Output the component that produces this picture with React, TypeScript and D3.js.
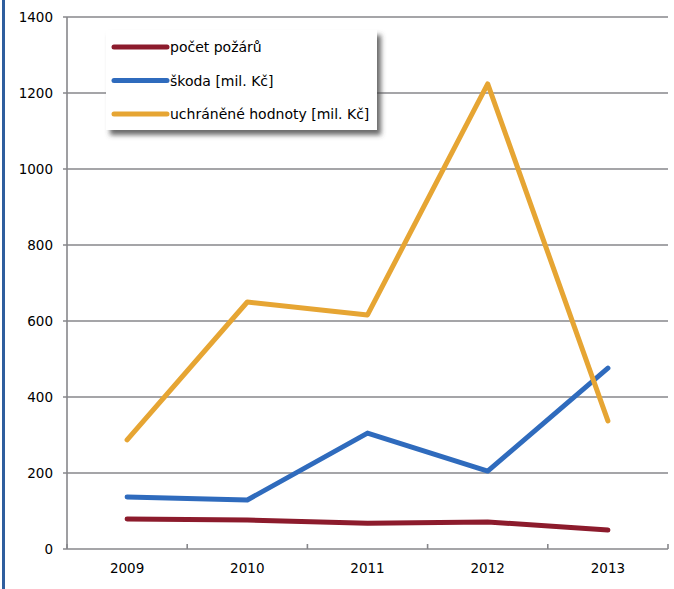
import * as d3 from 'd3';
import { useEffect, useRef } from 'react';

const YEARS = ['2009', '2010', '2011', '2012', '2013'];
const POZARY = [79, 76, 68, 71, 50];
const SKODA = [137, 129, 305, 205, 476];
const UCHRANENE = [287, 650, 616, 1224, 337];
const Y_TICKS = [0, 200, 400, 600, 800, 1000, 1200, 1400];

const SERIES = [
  { name: 'počet požárů', values: POZARY, color: '#8c1b2c' },
  { name: 'škoda [mil. Kč]', values: SKODA, color: '#2f6bbd' },
  { name: 'uchráněné hodnoty [mil. Kč]', values: UCHRANENE, color: '#e6a533' },
];

const W = 674;
const H = 589;
const FONT = '"DejaVu Sans", sans-serif';

export default function App() {
  const svgRef = useRef<SVGSVGElement>(null);

  useEffect(() => {
    if (!svgRef.current) return;
    const svg = d3.select(svgRef.current);
    svg.selectAll('*').remove();

    const x = d3.scaleBand<string>().domain(YEARS).range([67, 668]);
    const y = d3.scaleLinear().domain([0, 1400]).range([549, 17]);
    const cx = (d: string) => (x(d) ?? 0) + x.bandwidth() / 2;

    // left blue border
    svg.append('rect').attr('x', 2).attr('y', 0).attr('width', 3).attr('height', H).attr('fill', '#2f5e9e');

    const defs = svg.append('defs');
    const f = defs.append('filter').attr('id', 'shadow').attr('x', '-10%').attr('y', '-10%').attr('width', '130%').attr('height', '140%');
    f.append('feDropShadow').attr('dx', 4).attr('dy', 5).attr('stdDeviation', 2.5).attr('flood-color', '#444').attr('flood-opacity', 0.8);

    // gridlines
    svg.append('g')
      .selectAll('line')
      .data(Y_TICKS.filter(t => t > 0))
      .join('line')
      .attr('x1', 63)
      .attr('x2', 668)
      .attr('y1', d => y(d))
      .attr('y2', d => y(d))
      .attr('stroke', '#87878b')
      .attr('stroke-width', 1.6);

    // axes
    svg.append('line').attr('x1', 67).attr('x2', 67).attr('y1', 17).attr('y2', 549).attr('stroke', '#87878b').attr('stroke-width', 1.6);
    svg.append('line').attr('x1', 63).attr('x2', 668).attr('y1', 549).attr('y2', 549).attr('stroke', '#87878b').attr('stroke-width', 1.6);
    const bounds = [...YEARS.map(d => x(d) ?? 0), 668];
    svg.append('g')
      .selectAll('line')
      .data(bounds)
      .join('line')
      .attr('x1', d => d)
      .attr('x2', d => d)
      .attr('y1', 544)
      .attr('y2', 549)
      .attr('stroke', '#87878b')
      .attr('stroke-width', 1.6);

    // y tick labels
    svg.append('g')
      .selectAll('text')
      .data(Y_TICKS)
      .join('text')
      .attr('x', 53)
      .attr('y', d => y(d))
      .attr('text-anchor', 'end')
      .attr('dominant-baseline', 'central')
      .attr('font-family', FONT)
      .attr('font-size', 13.5)
      .attr('fill', '#000')
      .text(d => String(d));

    // x tick labels
    svg.append('g')
      .selectAll('text')
      .data(YEARS)
      .join('text')
      .attr('x', d => cx(d))
      .attr('y', 568)
      .attr('text-anchor', 'middle')
      .attr('dominant-baseline', 'central')
      .attr('font-family', FONT)
      .attr('font-size', 13.5)
      .attr('fill', '#000')
      .text(d => d);

    // lines
    const line = d3.line<number>().x((_, i) => cx(YEARS[i])).y(d => y(d));
    svg.append('g')
      .selectAll('path')
      .data(SERIES)
      .join('path')
      .attr('d', s => line(s.values) ?? '')
      .attr('fill', 'none')
      .attr('stroke', s => s.color)
      .attr('stroke-width', 5)
      .attr('stroke-linecap', 'round')
      .attr('stroke-linejoin', 'round');

    // legend
    const lg = svg.append('g').attr('transform', 'translate(106,30)');
    lg.append('rect').attr('width', 271).attr('height', 100).attr('fill', '#fff').attr('filter', 'url(#shadow)');
    SERIES.forEach((s, i) => {
      const ly = 17 + i * 33.5;
      lg.append('line').attr('x1', 8).attr('x2', 61).attr('y1', ly).attr('y2', ly)
        .attr('stroke', s.color).attr('stroke-width', 5).attr('stroke-linecap', 'round');
      lg.append('text').attr('x', 64).attr('y', ly).attr('dominant-baseline', 'central')
        .attr('font-family', FONT).attr('font-size', 14).attr('fill', '#000').text(s.name);
    });
  }, []);

  return <svg ref={svgRef} width={W} height={H} style={{ position: 'absolute', left: 0, top: 0, background: '#fff' }} />;
}
